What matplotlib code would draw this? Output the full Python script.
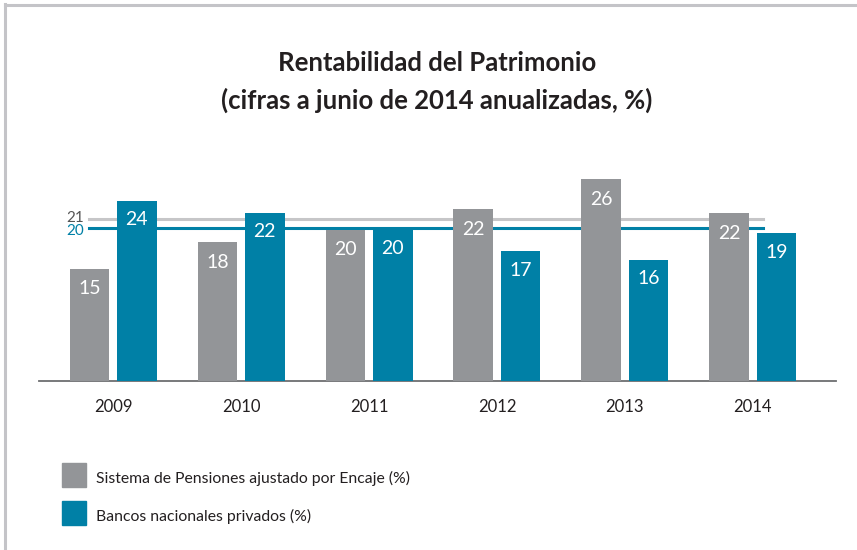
import matplotlib.pyplot as plt
import numpy as np

plt.rcParams['font.family'] = ['Lato', 'DejaVu Sans']

# ── data ──────────────────────────────────────────────────────────────────────
years = ['2009', '2010', '2011', '2012', '2013', '2014']
# bar heights as drawn in the picture, labels as printed
pensiones = [15.0, 18.5, 20.2, 22.9, 26.9, 22.4]
bancos = [24.0, 22.4, 20.2, 17.3, 16.2, 19.7]
pensiones_lbl = ['15', '18', '20', '22', '26', '22']
bancos_lbl = ['24', '22', '20', '17', '16', '19']
ref_values = [21.55, 20.35]
ref_labels = ['21', '20']
series_labels = ['Sistema de Pensiones ajustado por Encaje (%)',
                 'Bancos nacionales privados (%)']

GRAY = '#939598'
BLUE = '#0080a6'
LINE_GRAY = '#c6c6c8'
TEXT = '#231f20'

fig = plt.figure(figsize=(8.57, 5.5), dpi=100)
W, H = 857, 550

# frame on top/left edges
fig.add_artist(plt.Line2D([5 / W, 5 / W], [0, 1 - 4 / H], color='#c4c4c8',
                          lw=2.2, transform=fig.transFigure))
fig.add_artist(plt.Line2D([5 / W, 1], [1 - 4.5 / H, 1 - 4.5 / H], color='#c4c4c8',
                          lw=2.2, transform=fig.transFigure))

# axes: left 39px, right 836px, bottom 381px, top 156px
ax = fig.add_axes([39 / W, 1 - 381 / H, (836 - 39) / W, (381 - 156) / H])
x = np.arange(len(years))
bw = 0.31
off = 0.185

ax.bar(x - off, pensiones, bw, color=GRAY, zorder=3)
ax.bar(x + off, bancos, bw, color=BLUE, zorder=3)

# reference lines
x0, x1 = -0.19, 5.08
ax.plot([x0, x1], [ref_values[0]] * 2, color=LINE_GRAY, lw=2.2, zorder=2)
ax.plot([x0, x1], [ref_values[1]] * 2, color=BLUE, lw=2.2, zorder=2)
ax.text(x0 - 0.04, ref_values[0] + 0.25, ref_labels[0], ha='right',
        va='center', fontsize=11, color='#555555')
ax.text(x0 - 0.04, ref_values[1] - 0.35, ref_labels[1], ha='right',
        va='center', fontsize=11, color=BLUE)

for xi, v, t in zip(x, pensiones, pensiones_lbl):
    ax.text(xi - off, v - 2.7, t, ha='center', va='center',
            fontsize=14, color='white', zorder=4)
for xi, v, t in zip(x, bancos, bancos_lbl):
    ax.text(xi + off, v - 2.5, t, ha='center', va='center',
            fontsize=14, color='white', zorder=4)

ax.set_xlim(-0.58, 5.65)
ax.set_ylim(0, 30)
ax.set_xticks(x)
ax.set_xticklabels(years, fontsize=12, color=TEXT)
ax.tick_params(axis='x', length=0, pad=13)
ax.set_yticks([])
for s in ['top', 'right', 'left']:
    ax.spines[s].set_visible(False)
ax.spines['bottom'].set_color('#6d6e71')
ax.spines['bottom'].set_linewidth(1.3)

# title
fig.text(437 / W, 1 - 63 / H, 'Rentabilidad del Patrimonio', ha='center',
         va='center', fontsize=18.5, fontweight='bold', color=TEXT)
fig.text(437 / W, 1 - 100 / H, '(cifras a junio de 2014 anualizadas, %)',
         ha='center', va='center', fontsize=18.5, fontweight='bold', color=TEXT)

# legend
for i, (lab, col) in enumerate(zip(series_labels, [GRAY, BLUE])):
    yc = 475 + i * 38
    fig.add_artist(plt.Rectangle((62 / W, 1 - (yc + 12) / H), 24 / W, 24 / H,
                                 color=col, transform=fig.transFigure))
    fig.text(96 / W, 1 - (yc + 3) / H, lab, ha='left', va='center',
             fontsize=11.3, color=TEXT)

fig.savefig('out.png', dpi=100, facecolor='white')
